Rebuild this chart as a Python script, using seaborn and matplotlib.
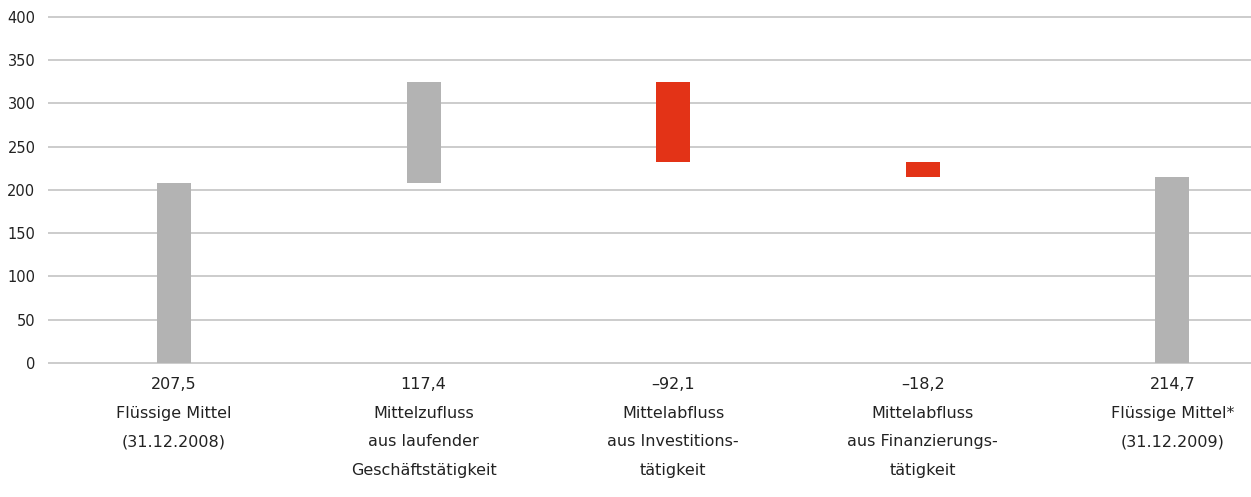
import numpy as np
import pandas as pd
import seaborn as sns
import matplotlib.pyplot as plt

# values in Mio. EUR
values = [207.5, 117.4, -92.1, -18.2, 214.7]
value_labels = ["207,5", "117,4", "\u201392,1", "\u201318,2", "214,7"]
names = ["Flüssige Mittel\n(31.12.2008)",
         "Mittelzufluss\naus laufender\nGeschäftstätigkeit",
         "Mittelabfluss\naus Investitions-\ntätigkeit",
         "Mittelabfluss\naus Finanzierungs-\ntätigkeit",
         "Flüssige Mittel*\n(31.12.2009)"]
is_total = [True, False, False, False, True]

# waterfall: compute bottoms and heights
bottoms, heights = [], []
running = 0.0
for v, tot in zip(values, is_total):
    if tot:
        bottoms.append(0.0)
        heights.append(v)
        running = v
    else:
        if v >= 0:
            bottoms.append(running)
        else:
            bottoms.append(running + v)
        heights.append(abs(v))
        running += v

GREY = "#b3b3b3"
RED = "#e33317"
colors = [GREY if v >= 0 else RED for v in values]

df = pd.DataFrame({"cat": [f"{a}\n{b}" for a, b in zip(value_labels, names)],
                   "height": heights})

sns.set_style("white")
plt.rcParams["font.family"] = ["DejaVu Sans"]

fig = plt.figure(figsize=(12.51, 4.97), dpi=100)
# 0.865 px per unit; y-range -2..402 so the outer gridlines are not clipped
ax = fig.add_axes([48 / 1251, 132.3 / 497, 1203 / 1251, 349.5 / 497])

sns.barplot(data=df, x="cat", y="height", bottom=bottoms, width=0.136,
            color=GREY, ax=ax, zorder=3)
for p, c in zip(ax.patches, colors):
    p.set_facecolor(c)
    p.set_edgecolor("none")

ax.set_ylim(-2, 402)
ax.set_yticks(np.arange(0, 401, 50))
ax.set_xlim(-0.505, 4.315)
ax.yaxis.grid(True, color="#c8c8c8", linewidth=1.3, zorder=0)
ax.set_axisbelow(True)
for s in ax.spines.values():
    s.set_visible(False)
ax.set_xlabel("")
ax.set_ylabel("")
ax.tick_params(axis="y", length=0, pad=9, labelsize=10.5, labelcolor="#222222")
ax.tick_params(axis="x", length=0, pad=8.8, labelsize=11.5, labelcolor="#222222")
for t in ax.get_xticklabels():
    t.set_linespacing(2.14)
    t.set_verticalalignment("top")

fig.savefig("out.png", dpi=100)
